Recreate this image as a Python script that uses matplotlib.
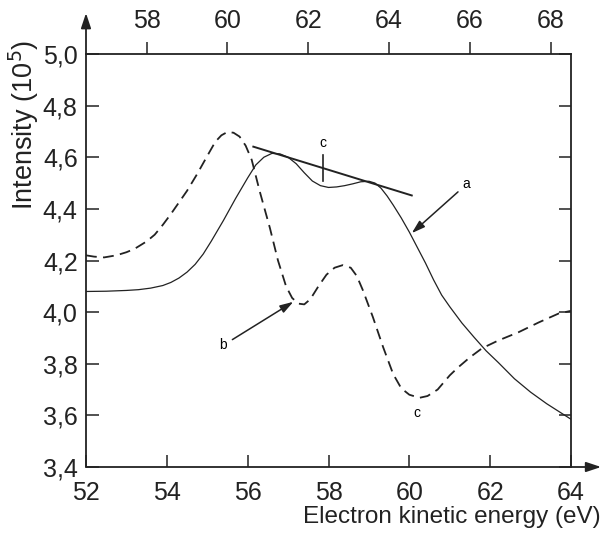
import numpy as np
import matplotlib
matplotlib.use("Agg")
import matplotlib.pyplot as plt

plt.rcParams['font.family'] = ['Liberation Sans', 'DejaVu Sans']

# curve a (solid)
energy_a = [52.0, 52.5, 53.0, 53.3, 53.6, 53.9, 54.1, 54.3, 54.5, 54.7, 54.9, 55.1, 55.4, 55.7,
            56.0, 56.2, 56.4, 56.6, 56.8, 57.0, 57.2, 57.4, 57.6, 57.8, 58.0, 58.2, 58.4, 58.6,
            58.8, 59.0, 59.15, 59.3, 59.45, 59.6, 59.8, 60.0, 60.2, 60.4, 60.6, 60.8, 61.0, 61.3,
            61.6, 61.9, 62.2, 62.6, 63.0, 63.4, 63.7, 64.0]
intens_a = [4.08, 4.081, 4.084, 4.087, 4.093, 4.103, 4.115, 4.132, 4.155, 4.185, 4.225, 4.275,
            4.355, 4.44, 4.52, 4.57, 4.60, 4.615, 4.613, 4.60, 4.575, 4.54, 4.508, 4.49, 4.483,
            4.485, 4.49, 4.497, 4.505, 4.507, 4.50, 4.48, 4.45, 4.415, 4.365, 4.31, 4.25, 4.19,
            4.125, 4.066, 4.021, 3.958, 3.903, 3.85, 3.805, 3.742, 3.69, 3.645, 3.615, 3.585]

# curve b (dashed)
energy_b = [52.0, 52.2, 52.45, 52.75, 53.0, 53.2, 53.5, 53.7, 53.9, 54.1, 54.3, 54.5, 54.75,
            55.0, 55.2, 55.35, 55.5, 55.65, 55.8, 55.95, 56.1, 56.3, 56.55, 56.75, 56.95, 57.1,
            57.25, 57.4, 57.55, 57.75, 57.95, 58.15, 58.35, 58.55, 58.7, 58.85, 59.1, 59.35,
            59.6, 59.8, 60.0, 60.25, 60.45, 60.7, 61.0, 61.2, 61.5, 61.8, 62.2, 62.7, 63.2,
            63.7, 64.0]
intens_b = [4.22, 4.215, 4.212, 4.22, 4.232, 4.245, 4.274, 4.30, 4.338, 4.38, 4.425, 4.47, 4.535,
            4.605, 4.66, 4.685, 4.698, 4.695, 4.68, 4.645, 4.59, 4.467, 4.326, 4.20, 4.10, 4.055,
            4.033, 4.03, 4.05, 4.10, 4.145, 4.172, 4.182, 4.172, 4.14, 4.085, 3.98, 3.865,
            3.76, 3.705, 3.68, 3.668, 3.675, 3.70, 3.755, 3.785, 3.825, 3.86, 3.89, 3.922, 3.96,
            3.995, 4.005]

# tangent line and marker c
tangent_x = [56.14, 60.06]
tangent_y = [4.641, 4.452]

xticks = [52, 54, 56, 58, 60, 62, 64]
yticks = [3.4, 3.6, 3.8, 4.0, 4.2, 4.4, 4.6, 4.8, 5.0]
ylabels = ['3,4', '3,6', '3,8', '4,0', '4,2', '4,4', '4,6', '4,8', '5,0']
top_ticks = [58, 60, 62, 64, 66, 68]

fs = 18
fig = plt.figure(figsize=(6.04, 5.37), dpi=100)
ax = fig.add_axes([86/604, 1 - 467/537, 485/604, 413/537])

ax.plot(energy_a, intens_a, color='#222222', lw=0.9)
ax.plot(energy_b, intens_b, color='#222222', lw=1.3, linestyle=(0, (6, 3.5)))
ax.plot(tangent_x, tangent_y, color='#222222', lw=1.4)
ax.plot([57.87, 57.87], [4.508, 4.609], color='#222222', lw=1.2)

ax.set_xlim(52, 64)
ax.set_ylim(3.4, 5.0)
ax.set_xticks(xticks)
ax.set_xticklabels([str(t) for t in xticks])
ax.set_yticks(yticks)
ax.set_yticklabels(ylabels)
ax.tick_params(direction='in', length=9, width=1.1, labelsize=fs, top=True, right=True,
               color='#222222', labelcolor='#222222')
ax.tick_params(axis='x', pad=10)
ax.tick_params(axis='y', pad=6)
for s in ax.spines.values():
    s.set_linewidth(1.3)
    s.set_color('#222222')
ax.spines['left'].set_visible(False)
ax.spines['bottom'].set_visible(False)

# axis arrows
ax.annotate('', xy=(0, 1.099), xytext=(0, 0), xycoords='axes fraction',
            arrowprops=dict(arrowstyle='-|>,head_length=0.9,head_width=0.3', color='#222222',
                            lw=1.3, shrinkA=0, shrinkB=0), annotation_clip=False)
ax.annotate('', xy=(1.062, 0), xytext=(0, 0), xycoords='axes fraction',
            arrowprops=dict(arrowstyle='-|>,head_length=0.9,head_width=0.3', color='#222222',
                            lw=1.3, shrinkA=0, shrinkB=0), annotation_clip=False)

# top axis
ax2 = ax.twiny()
ax2.set_xlim(56.5, 68.5)
ax2.set_xticks(top_ticks)
ax2.set_xticklabels([str(t) for t in top_ticks])
ax2.tick_params(direction='out', length=9, width=1.1, labelsize=fs, pad=6,
                color='#222222', labelcolor='#222222')
for s in ax2.spines.values():
    s.set_visible(False)

# annotations
arr = dict(arrowstyle='-|>,head_length=0.8,head_width=0.25', color='#222222', lw=1.1,
           shrinkA=2, shrinkB=0)
ax.annotate('a', xy=(60.06, 4.306), xytext=(61.42, 4.496), fontsize=10, ha='center',
            va='center', arrowprops=arr)
ax.annotate('b', xy=(57.13, 4.04), xytext=(55.4, 3.872), fontsize=10, ha='center',
            va='center', arrowprops=arr)
ax.text(57.87, 4.655, 'c', fontsize=10, ha='center', va='center')
ax.text(60.18, 3.61, 'c', fontsize=10, ha='center', va='center')

fig.text(24/604, 1 - 125/537, 'Intensity (10$^5$)', rotation=90, fontsize=19.5,
         ha='center', va='center', color='#222222')
fig.text(601/604, 1 - 517/537, 'Electron kinetic energy (eV)', fontsize=17.5,
         ha='right', va='center', color='#222222')

fig.savefig('out.png', dpi=100)
